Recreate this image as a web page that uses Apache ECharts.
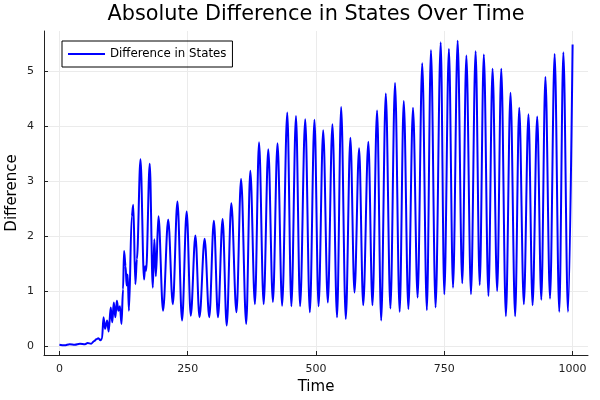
<!DOCTYPE html>
<html><head><meta charset="utf-8">
<script src="https://cdn.jsdelivr.net/npm/echarts@6/dist/echarts.min.js"></script>
<style>html,body{margin:0;padding:0;background:#fff}#c{width:600px;height:400px}</style>
</head><body><div id="c"></div>
<script>
const seriesName = 'Difference in States';
const times = [0,10,20,30,40,50,55,62,68,72,76,80,83,86,89,93,96,100,103,106,109,112,115,118,121,124,126,129,131,133,135.5,141,144,148,151,158,165,167,169,176,182,185,188,193,202,212,221,230,239,248,256,265,273,283,292,301,309,318,326,335,345,354,364,372,381,389,398,407,416,425,434,444,452,461,469,479,488,497,505,514,523,532,541,549,558,567,575,584,592,602,610,619,627,636,645,654,663,671,680,689,698,707,716,724,733,743,750,759,767,776,785,793,802,811,819,827,836,844,853,861,870,879,888,896,905,914,922,931,939,947,956,965,974,982,991,1000];
const values = [0.02,0.01,0.03,0.02,0.04,0.03,0.05,0.04,0.09,0.12,0.14,0.10,0.13,0.52,0.31,0.46,0.26,0.70,0.43,0.79,0.52,0.82,0.64,0.72,0.40,1.03,1.73,1.45,1.10,1.30,0.64,2.36,2.57,1.12,1.58,3.40,1.21,1.45,1.37,3.32,1.06,1.94,1.27,2.36,0.64,2.30,0.76,2.63,0.46,2.45,0.55,2.01,0.52,1.95,0.52,2.28,0.52,2.31,0.37,2.60,0.61,3.04,0.40,3.19,0.76,3.71,0.76,3.58,0.80,3.69,0.73,4.25,0.72,4.19,0.72,4.13,0.61,4.12,0.72,3.93,0.79,4.04,0.52,4.35,0.49,3.79,0.97,3.60,0.74,3.72,0.74,4.29,0.46,4.60,0.68,4.79,0.62,4.46,0.67,4.34,0.88,5.15,0.65,5.39,0.70,5.53,0.94,5.41,1.06,5.56,1.14,5.29,0.94,5.37,1.11,5.31,0.91,5.05,1.00,5.05,0.54,4.61,0.54,4.34,0.76,4.22,0.74,4.18,0.84,4.90,0.86,5.32,0.62,5.35,0.62,5.49];
const xTicks = [0,250,500,750,1000];
const yTicks = [0,1,2,3,4,5];

const data = times.map((t, i) => [t, values[i]]);
const FONT = 'DejaVu Sans';
const chart = echarts.init(document.getElementById('c'), null, {renderer: 'canvas'});
const axisCommon = {
  type: 'value',
  axisLine: {show: true, onZero: false, lineStyle: {color: '#222', width: 1}},
  axisTick: {show: true, inside: true, length: 4, lineStyle: {color: '#222'}},
  axisLabel: {fontFamily: FONT, fontSize: 11, color: '#222', formatter: v => String(v)},
  splitLine: {show: true, lineStyle: {color: '#ebebeb', width: 1}},
  nameTextStyle: {fontFamily: FONT, fontSize: 15, color: '#000'}
};
chart.setOption({
  animation: false,
  backgroundColor: '#fff',
  title: {
    text: 'Absolute Difference in States Over Time',
    left: 316, top: 4, padding: 0, textAlign: 'center',
    textStyle: {fontFamily: FONT, fontSize: 20.8, fontWeight: 'normal', color: '#000'}
  },
  legend: {
    data: [seriesName],
    left: 62, top: 41,
    padding: [7, 6, 7, 6],
    borderColor: '#000', borderWidth: 1,
    icon: 'rect', itemWidth: 37, itemHeight: 2,
    textStyle: {fontFamily: FONT, fontSize: 11.8, color: '#000'}
  },
  grid: {left: 44, top: 31, width: 544, height: 324, containLabel: false, outerBoundsMode: 'none'},
  xAxis: Object.assign({}, axisCommon, {
    min: -30, max: 1030,
    name: 'Time', nameLocation: 'middle', nameGap: 23,
    axisTick: Object.assign({}, axisCommon.axisTick, {customValues: xTicks}),
    axisLabel: Object.assign({}, axisCommon.axisLabel, {customValues: xTicks, margin: 9})
  }),
  yAxis: Object.assign({}, axisCommon, {
    min: -0.167, max: 5.737,
    name: 'Difference', nameLocation: 'middle', nameGap: 24,
    nameMoveOverlap: false,
    axisTick: Object.assign({}, axisCommon.axisTick, {customValues: yTicks}),
    axisLabel: Object.assign({}, axisCommon.axisLabel, {customValues: yTicks, margin: 10})
  }),
  series: [{
    name: seriesName,
    type: 'line',
    data: data,
    showSymbol: false,
    symbol: 'none',
    smooth: 0.35,
    smoothMonotone: 'x',
    lineStyle: {color: '#0000ff', width: 2},
    itemStyle: {color: '#0000ff'}
  }]
});
</script>
</body></html>
